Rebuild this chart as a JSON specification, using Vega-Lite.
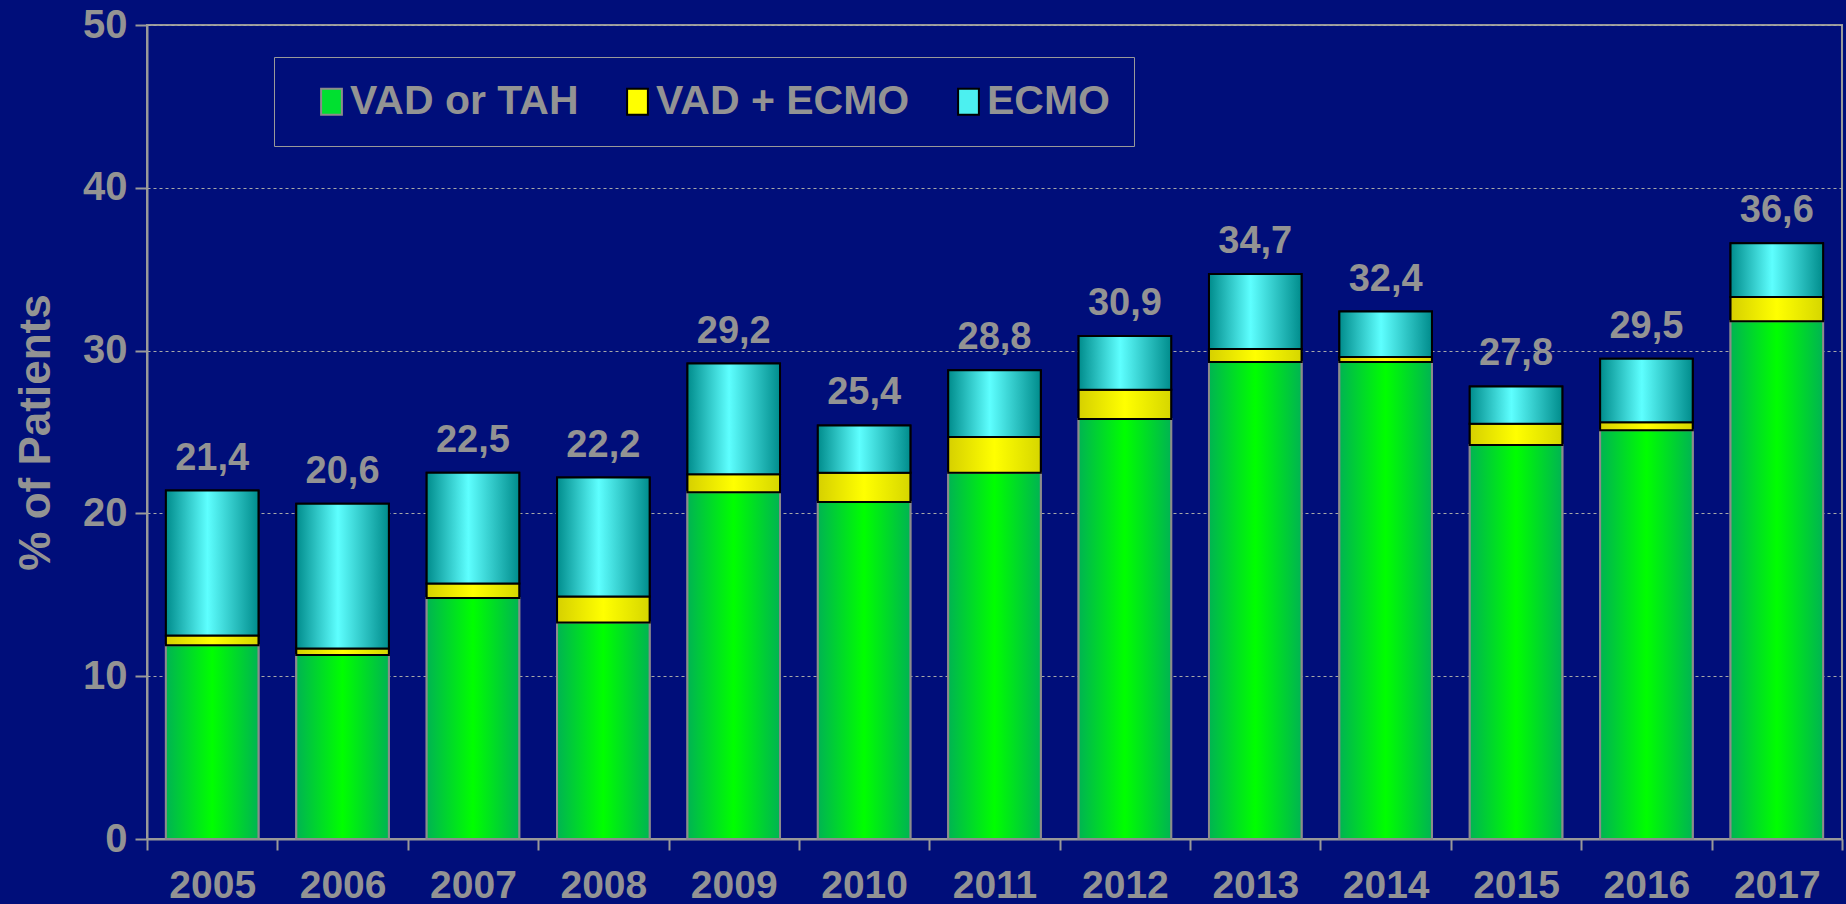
{
  "$schema": "https://vega.github.io/schema/vega-lite/v6.json",
  "width": 1695,
  "height": 814,
  "autosize": {"type": "none"},
  "padding": {"left": 147, "top": 25, "right": 4, "bottom": 65},
  "background": "#000E7A",
  "config": {
    "view": {"stroke": "#999999", "strokeWidth": 2},
    "font": "Liberation Sans",
    "locale": {"number": {"decimal": ",", "thousands": ".", "grouping": [3], "currency": ["", " €"]}}
  },
  "data": {"values": [
    {"year": "2005", "series": "VAD or TAH", "value": 11.9},
    {"year": "2005", "series": "VAD + ECMO", "value": 0.6},
    {"year": "2005", "series": "ECMO", "value": 8.9},
    {"year": "2006", "series": "VAD or TAH", "value": 11.3},
    {"year": "2006", "series": "VAD + ECMO", "value": 0.4},
    {"year": "2006", "series": "ECMO", "value": 8.9},
    {"year": "2007", "series": "VAD or TAH", "value": 14.8},
    {"year": "2007", "series": "VAD + ECMO", "value": 0.9},
    {"year": "2007", "series": "ECMO", "value": 6.8},
    {"year": "2008", "series": "VAD or TAH", "value": 13.3},
    {"year": "2008", "series": "VAD + ECMO", "value": 1.6},
    {"year": "2008", "series": "ECMO", "value": 7.3},
    {"year": "2009", "series": "VAD or TAH", "value": 21.3},
    {"year": "2009", "series": "VAD + ECMO", "value": 1.1},
    {"year": "2009", "series": "ECMO", "value": 6.8},
    {"year": "2010", "series": "VAD or TAH", "value": 20.7},
    {"year": "2010", "series": "VAD + ECMO", "value": 1.8},
    {"year": "2010", "series": "ECMO", "value": 2.9},
    {"year": "2011", "series": "VAD or TAH", "value": 22.5},
    {"year": "2011", "series": "VAD + ECMO", "value": 2.2},
    {"year": "2011", "series": "ECMO", "value": 4.1},
    {"year": "2012", "series": "VAD or TAH", "value": 25.8},
    {"year": "2012", "series": "VAD + ECMO", "value": 1.8},
    {"year": "2012", "series": "ECMO", "value": 3.3},
    {"year": "2013", "series": "VAD or TAH", "value": 29.3},
    {"year": "2013", "series": "VAD + ECMO", "value": 0.8},
    {"year": "2013", "series": "ECMO", "value": 4.6},
    {"year": "2014", "series": "VAD or TAH", "value": 29.3},
    {"year": "2014", "series": "VAD + ECMO", "value": 0.3},
    {"year": "2014", "series": "ECMO", "value": 2.8},
    {"year": "2015", "series": "VAD or TAH", "value": 24.2},
    {"year": "2015", "series": "VAD + ECMO", "value": 1.3},
    {"year": "2015", "series": "ECMO", "value": 2.3},
    {"year": "2016", "series": "VAD or TAH", "value": 25.1},
    {"year": "2016", "series": "VAD + ECMO", "value": 0.5},
    {"year": "2016", "series": "ECMO", "value": 3.9},
    {"year": "2017", "series": "VAD or TAH", "value": 31.8},
    {"year": "2017", "series": "VAD + ECMO", "value": 1.5},
    {"year": "2017", "series": "ECMO", "value": 3.3}
  ]},
  "transform": [
    {"stack": "value", "groupby": ["year"], "sort": [{"field": "series", "order": "descending"}], "as": ["v0", "v1"]}
  ],
  "encoding": {
    "x": {
      "field": "year", "type": "ordinal",
      "scale": {"paddingInner": 0, "paddingOuter": 0},
      "axis": {
        "title": null, "labelAngle": 0, "tickBand": "extent",
        "domainColor": "#999999", "domainWidth": 2,
        "tickColor": "#999999", "tickWidth": 2, "tickSize": 11,
        "labelFontSize": 39, "labelFontWeight": "bold", "labelColor": "#939393",
        "labelPadding": 16, "grid": false
      }
    },
    "y": {
      "field": "v1", "type": "quantitative",
      "scale": {"domain": [0, 50], "nice": false},
      "axis": {
        "title": "% of Patients", "values": [0, 10, 20, 30, 40, 50],
        "domainColor": "#999999", "domainWidth": 2,
        "tickColor": "#999999", "tickWidth": 2, "tickSize": 12,
        "labelFontSize": 40, "labelFontWeight": "bold", "labelColor": "#939393",
        "labelPadding": 8,
        "titleFontSize": 44, "titleFontWeight": "bold", "titleColor": "#939393",
        "titlePadding": 24,
        "grid": true, "gridColor": "#A8A8A8", "gridDash": [3, 3], "gridWidth": 1
      }
    }
  },
  "layer": [
    {
      "mark": {"type": "bar", "strokeWidth": 2, "width": {"band": 0.71}},
      "encoding": {
        "y2": {"field": "v0"},
        "color": {
          "field": "series", "type": "nominal",
          "sort": ["VAD or TAH", "VAD + ECMO", "ECMO"],
          "scale": {"domain": ["VAD or TAH", "VAD + ECMO", "ECMO"], "range": ["#00E030", "#FFFF00", "#4CF0F0"]},
          "legend": {
            "orient": "none", "legendX": 127, "legendY": 32,
            "direction": "horizontal", "title": null, "labelLimit": 500,
            "labelFontSize": 41, "labelFontWeight": "bold", "labelColor": "#939393",
            "symbolType": "M-0.8,-1L0.8,-1L0.8,1L-0.8,1Z", "symbolSize": 676,
            "symbolStrokeWidth": 2, "columnPadding": 25, "labelOffset": -2,
            "padding": 24, "strokeColor": "#999999", "symbolOffset": 13
          }
        },
        "stroke": {
          "field": "series", "type": "nominal",
          "sort": ["VAD or TAH", "VAD + ECMO", "ECMO"],
          "scale": {"domain": ["VAD or TAH", "VAD + ECMO", "ECMO"], "range": ["#8C8C8C", "#000000", "#000000"]},
          "legend": {
            "orient": "none", "legendX": 127, "legendY": 32,
            "direction": "horizontal", "title": null, "labelLimit": 500,
            "labelFontSize": 41, "labelFontWeight": "bold", "labelColor": "#939393",
            "symbolType": "M-0.8,-1L0.8,-1L0.8,1L-0.8,1Z", "symbolSize": 676,
            "symbolStrokeWidth": 2, "columnPadding": 25, "labelOffset": -2,
            "padding": 24, "strokeColor": "#999999", "symbolOffset": 13
          }
        }
      }
    },
    {
      "transform": [{"filter": "datum.series === 'VAD or TAH'"}],
      "mark": {"type": "bar", "strokeWidth": 2, "stroke": "#8C8C8C", "width": {"band": 0.71},
        "color": {"gradient": "linear", "x1": 0, "x2": 1, "y1": 0, "y2": 0, "stops": [{"offset": 0, "color": "#00B452"}, {"offset": 0.5, "color": "#00FF00"}, {"offset": 1, "color": "#00B452"}]}},
      "encoding": {"y2": {"field": "v0"}}
    },
    {
      "transform": [{"filter": "datum.series === 'VAD + ECMO'"}],
      "mark": {"type": "bar", "strokeWidth": 2, "stroke": "#000000", "width": {"band": 0.71},
        "color": {"gradient": "linear", "x1": 0, "x2": 1, "y1": 0, "y2": 0, "stops": [{"offset": 0, "color": "#D6D000"}, {"offset": 0.5, "color": "#FFFF00"}, {"offset": 1, "color": "#D6D600"}]}},
      "encoding": {"y2": {"field": "v0"}}
    },
    {
      "transform": [{"filter": "datum.series === 'ECMO'"}],
      "mark": {"type": "bar", "strokeWidth": 2, "stroke": "#000000", "width": {"band": 0.71},
        "color": {"gradient": "linear", "x1": 0, "x2": 1, "y1": 0, "y2": 0, "stops": [{"offset": 0, "color": "#008C8C"}, {"offset": 0.45, "color": "#5EFFFF"}, {"offset": 1, "color": "#008C8C"}]}},
      "encoding": {"y2": {"field": "v0"}}
    },
    {
      "transform": [{"filter": "datum.series === 'ECMO'"}],
      "mark": {"type": "text", "dy": -21, "baseline": "alphabetic", "fontSize": 38, "fontWeight": "bold", "color": "#939393"},
      "encoding": {
        "text": {"field": "v1", "type": "quantitative", "format": ".1f"}
      }
    }
  ]
}
